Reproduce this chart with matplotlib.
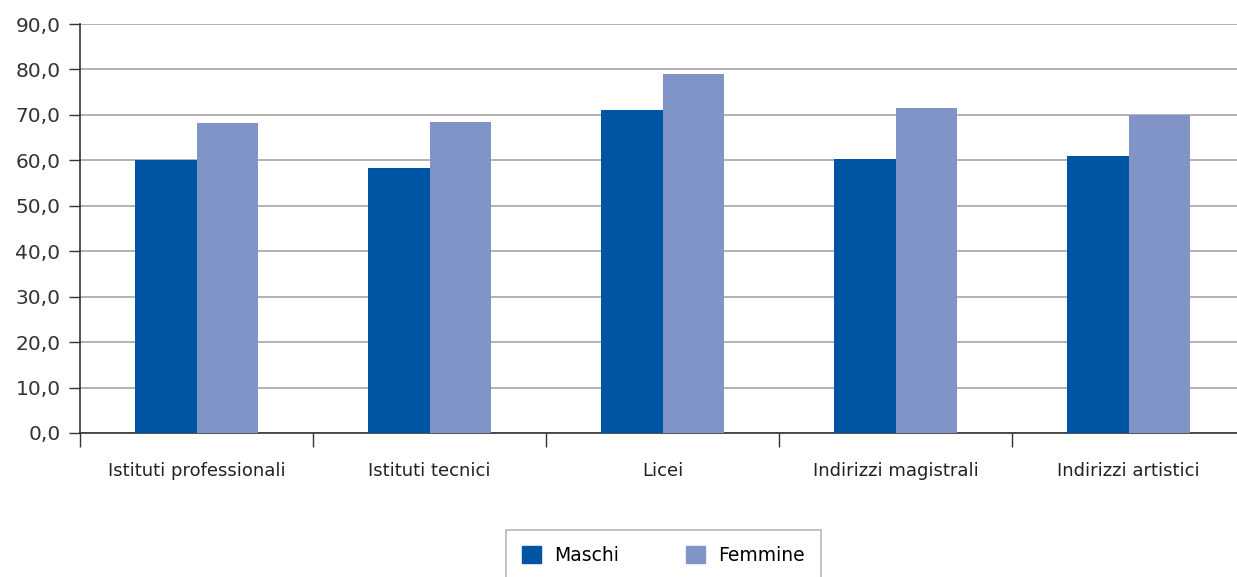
import matplotlib
matplotlib.use("Agg")
from matplotlib import pyplot as plt
from matplotlib.patches import Patch
import numpy as np

categorie = ["Istituti professionali", "Istituti tecnici", "Licei",
             "Indirizzi magistrali", "Indirizzi artistici"]
maschi = [60.0, 58.3, 71.1, 60.3, 61.0]
femmine = [68.2, 68.4, 79.0, 71.5, 70.0]
yticks = [0, 10, 20, 30, 40, 50, 60, 70, 80, 90]

col_m = "#0054a4"
col_f = "#8194c8"

W, H = 1237, 577
fig = plt.figure(figsize=(W / 100, H / 100), dpi=100)
# asse: x da 80 a 1245 px, y da 433 (0) a 24 (90)
ax = fig.add_axes([80 / W, (H - 433) / H, 1165 / W, 409 / H])

x = np.arange(len(categorie))
w = 0.262
ax.bar(x - w / 2, maschi, w, color=col_m, zorder=3)
ax.bar(x + w / 2, femmine, w, color=col_f, zorder=3)

ax.set_xlim(-0.5, len(categorie) - 0.5)
ax.set_ylim(0, 90)
ax.set_yticks(yticks)
ax.set_yticklabels([("%.1f" % v).replace(".", ",") for v in yticks],
                   fontsize=14.5, color="#333333")
ax.yaxis.grid(True, color="#a6a6a6", linewidth=1.2, zorder=0)
ax.set_axisbelow(True)

ax.set_xticks(np.arange(len(categorie) + 1) - 0.5)
ax.set_xticklabels([])
ax.set_xticks(x, minor=True)
ax.set_xticklabels(categorie, minor=True, fontsize=13, color="#222222")
ax.tick_params(axis="x", which="minor", length=0, pad=21)
ax.tick_params(axis="x", which="major", length=10, width=1, color="#333333")
ax.tick_params(axis="y", length=8, width=1, color="#333333", pad=6)

for s in ["top", "right"]:
    ax.spines[s].set_visible(False)
ax.spines["left"].set_color("#333333")
ax.spines["bottom"].set_color("#333333")
ax.spines["left"].set_linewidth(1.2)
ax.spines["bottom"].set_linewidth(1.2)

handles = [Patch(color=col_m, label="Maschi"), Patch(color=col_f, label="Femmine")]
leg = fig.legend(handles=handles, loc="upper left",
                 bbox_to_anchor=(506 / W, (H - 530) / H), ncol=2,
                 fontsize=13.5, frameon=True, fancybox=False,
                 handlelength=1.0, handleheight=1.0, handletextpad=0.7,
                 columnspacing=3.6, borderpad=0.85, borderaxespad=0)
leg.get_frame().set_edgecolor("#a6a6a6")
leg.get_frame().set_linewidth(1.2)

fig.savefig("out.png", dpi=100)
